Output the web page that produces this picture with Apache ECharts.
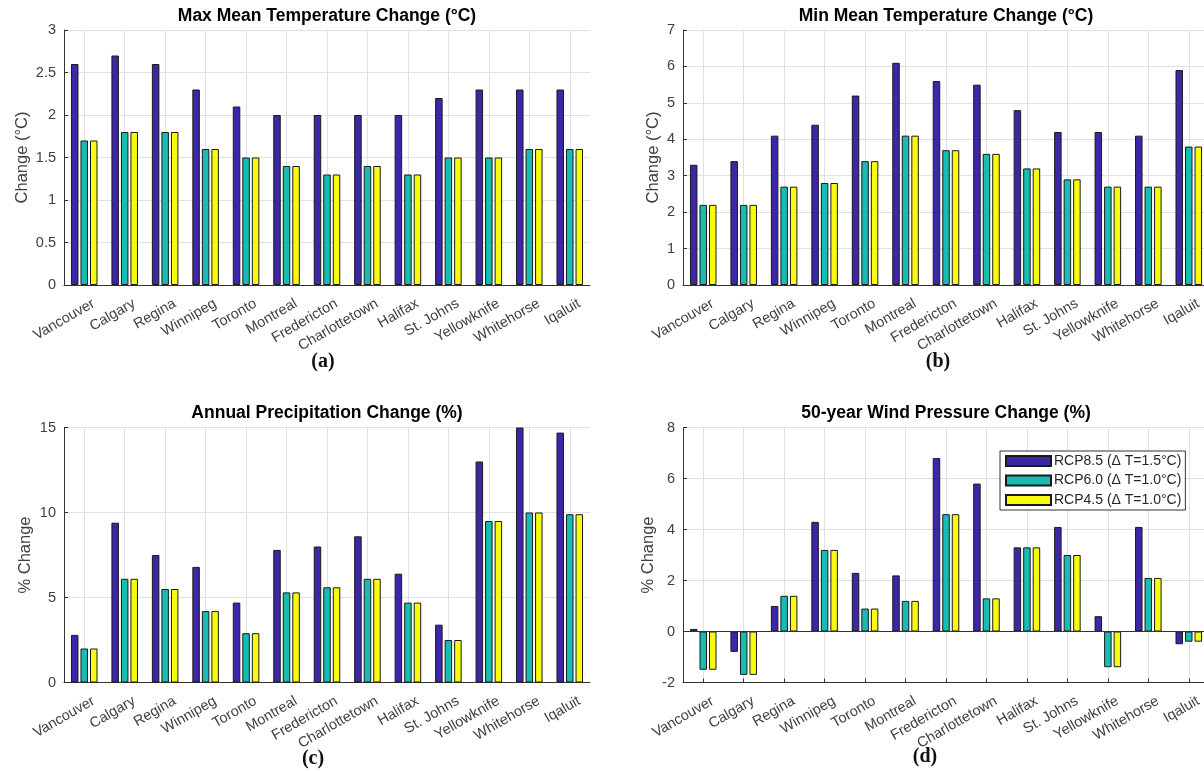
<!DOCTYPE html>
<html><head><meta charset="utf-8">
<script src="https://cdn.jsdelivr.net/npm/echarts@6/dist/echarts.min.js"></script>
<style>html,body{margin:0;padding:0;background:#fff}#c{width:1204px;height:771px}</style>
</head><body><div id="c"></div>
<script>
// ---- data ----
const cities = ['Vancouver','Calgary','Regina','Winnipeg','Toronto','Montreal','Fredericton','Charlottetown','Halifax','St. Johns','Yellowknife','Whitehorse','Iqaluit'];
const scenarioNames = ['RCP8.5 (\u0394 T=1.5\u00b0C)', 'RCP6.0 (\u0394 T=1.0\u00b0C)', 'RCP4.5 (\u0394 T=1.0\u00b0C)'];

const maxTempRCP85 = [2.6, 2.7, 2.6, 2.3, 2.1, 2.0, 2.0, 2.0, 2.0, 2.2, 2.3, 2.3, 2.3];
const maxTempRCP60 = [1.7, 1.8, 1.8, 1.6, 1.5, 1.4, 1.3, 1.4, 1.3, 1.5, 1.5, 1.6, 1.6];
const maxTempRCP45 = [1.7, 1.8, 1.8, 1.6, 1.5, 1.4, 1.3, 1.4, 1.3, 1.5, 1.5, 1.6, 1.6];

const minTempRCP85 = [3.3, 3.4, 4.1, 4.4, 5.2, 6.1, 5.6, 5.5, 4.8, 4.2, 4.2, 4.1, 5.9];
const minTempRCP60 = [2.2, 2.2, 2.7, 2.8, 3.4, 4.1, 3.7, 3.6, 3.2, 2.9, 2.7, 2.7, 3.8];
const minTempRCP45 = [2.2, 2.2, 2.7, 2.8, 3.4, 4.1, 3.7, 3.6, 3.2, 2.9, 2.7, 2.7, 3.8];

const precipRCP85 = [2.8, 9.4, 7.5, 6.8, 4.7, 7.8, 8.0, 8.6, 6.4, 3.4, 13.0, 15.0, 14.7];
const precipRCP60 = [2.0, 6.1, 5.5, 4.2, 2.9, 5.3, 5.6, 6.1, 4.7, 2.5, 9.5, 10.0, 9.9];
const precipRCP45 = [2.0, 6.1, 5.5, 4.2, 2.9, 5.3, 5.6, 6.1, 4.7, 2.5, 9.5, 10.0, 9.9];

const windRCP85 = [0.1, -0.8, 1.0, 4.3, 2.3, 2.2, 6.8, 5.8, 3.3, 4.1, 0.6, 4.1, -0.5];
const windRCP60 = [-1.5, -1.7, 1.4, 3.2, 0.9, 1.2, 4.6, 1.3, 3.3, 3.0, -1.4, 2.1, -0.4];
const windRCP45 = [-1.5, -1.7, 1.4, 3.2, 0.9, 1.2, 4.6, 1.3, 3.3, 3.0, -1.4, 2.1, -0.4];

const panelTitles = ['Max Mean Temperature Change (\u00b0C)', 'Min Mean Temperature Change (\u00b0C)', 'Annual Precipitation Change (%)', '50-year Wind Pressure Change (%)'];
const yAxisNames = ['Change (\u00b0C)', 'Change (\u00b0C)', '% Change', '% Change'];
const yMins = [0, 0, 0, -2];
const yMaxs = [3, 7, 15, 8];
const yIntervals = [0.5, 1, 5, 2];
const panelLetters = ['(a)', '(b)', '(c)', '(d)'];

const panelData = [
  [maxTempRCP85, maxTempRCP60, maxTempRCP45],
  [minTempRCP85, minTempRCP60, minTempRCP45],
  [precipRCP85, precipRCP60, precipRCP45],
  [windRCP85, windRCP60, windRCP45]
];

// ---- layout / style ----
const FONT = '"Liberation Sans", Arial, Helvetica, sans-serif';
const colors = ['#3e26a8', '#17bdb3', '#f9fb0e'];
const grids = [
  {left: 64, top: 30, width: 526, height: 255},
  {left: 683, top: 30, width: 526, height: 255},
  {left: 64, top: 427.5, width: 526, height: 255},
  {left: 683, top: 427.5, width: 526, height: 255}
];
const nameGaps = [33, 21, 30, 26];
const titleY = [16, 16, 413, 413];
const letterPos = [[323, 362], [938, 362], [313, 759], [925, 757]];

const option = {
  animation: false,
  backgroundColor: '#fff',
  textStyle: {fontFamily: FONT},
  title: panelTitles.map((t, i) => ({
    text: t,
    left: grids[i].left + grids[i].width / 2,
    top: titleY[i] - 9,
    textAlign: 'center',
    padding: 0,
    textStyle: {fontSize: 17.5, fontWeight: 'bold', color: '#000', fontFamily: FONT}
  })),
  legend: {
    data: scenarioNames,
    orient: 'vertical',
    left: 1000,
    top: 451,
    itemWidth: 45,
    itemHeight: 10,
    itemGap: 5.5,
    padding: [3, 4, 3, 5],
    backgroundColor: '#fff',
    borderColor: '#333',
    borderWidth: 1,
    borderRadius: 0,
    icon: 'rect',
    selectedMode: false,
    textStyle: {fontSize: 14, color: '#262626', fontFamily: FONT, padding: [0, 0, 0, -2]}
  },
  grid: grids.map(g => Object.assign({containLabel: false, outerBoundsMode: 'none'}, g)),
  xAxis: grids.map((g, i) => ({
    type: 'category',
    gridIndex: i,
    data: cities,
    axisLine: {onZero: false, lineStyle: {color: '#333', width: 1}},
    axisTick: {show: true, inside: true, alignWithLabel: true, length: 4, interval: 0, lineStyle: {color: '#333'}},
    splitLine: {show: true, alignWithLabel: true, interval: 0, lineStyle: {color: '#e0e0e0', width: 1}},
    axisLabel: {
      interval: 0, rotate: 30, fontSize: 14.5, color: '#404040', fontFamily: FONT,
      margin: 23, padding: [0, -11, 0, 0], hideOverlap: false
    }
  })),
  yAxis: grids.map((g, i) => ({
    type: 'value',
    gridIndex: i,
    min: yMins[i],
    max: yMaxs[i],
    interval: yIntervals[i],
    name: yAxisNames[i],
    nameLocation: 'middle',
    nameGap: nameGaps[i],
    nameTextStyle: {fontSize: 16.5, color: '#404040', fontFamily: FONT},
    axisLine: {show: true, lineStyle: {color: '#333', width: 1}},
    axisTick: {show: true, inside: true, length: 4, lineStyle: {color: '#333'}},
    splitLine: {show: true, lineStyle: {color: '#e0e0e0', width: 1}},
    axisLabel: {fontSize: 14.5, color: '#404040', margin: 8, fontFamily: FONT}
  })),
  graphic: panelLetters.map((t, i) => ({
    type: 'text',
    x: letterPos[i][0],
    y: letterPos[i][1],
    style: {text: t, font: 'bold 20px "Liberation Serif", "Times New Roman", serif', fill: '#111', textAlign: 'center', textVerticalAlign: 'middle'}
  })),
  series: []
};

panelData.forEach((arrs, p) => {
  arrs.forEach((vals, s) => {
    const ser = {
      type: 'bar',
      name: scenarioNames[s],
      xAxisIndex: p,
      yAxisIndex: p,
      data: vals,
      barWidth: 7.5,
      barGap: '27%',
      itemStyle: {color: colors[s], borderColor: '#1a1a1a', borderWidth: 1},
      emphasis: {disabled: true}
    };
    if (p === 3 && s === 0) {
      ser.markLine = {
        silent: true, symbol: 'none', animation: false,
        label: {show: false},
        lineStyle: {color: '#333', type: 'solid', width: 1},
        data: [{yAxis: 0}]
      };
    }
    option.series.push(ser);
  });
});

const chart = echarts.init(document.getElementById('c'), null, {renderer: 'canvas'});
chart.setOption(option);
</script>
</body></html>
